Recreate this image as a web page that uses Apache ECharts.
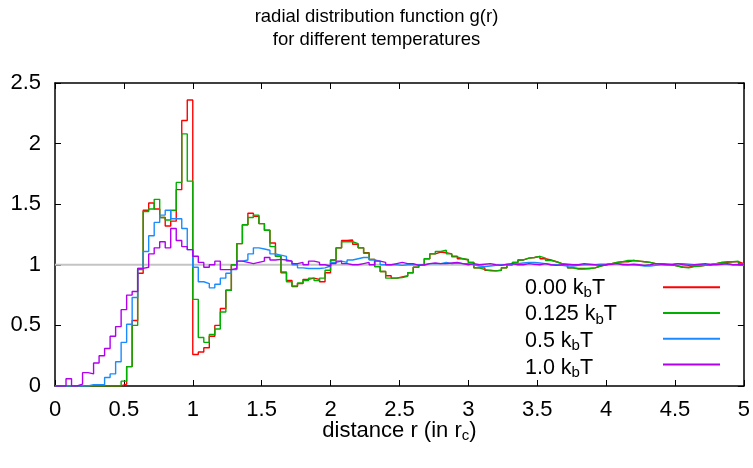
<!DOCTYPE html>
<html><head><meta charset="utf-8">
<script src="https://cdn.jsdelivr.net/npm/echarts@6/dist/echarts.min.js"></script>
<style>html,body{margin:0;padding:0;background:#fff}#c{width:753px;height:468px}</style>
</head><body><div id="c"></div>
<script>
// bin width of the histogram (r units), bins start at r = 0
const binWidth = 0.04;
const temps = ['0.00', '0.125', '0.5', '1.0'];
const xTicks = [0, 0.5, 1, 1.5, 2, 2.5, 3, 3.5, 4, 4.5, 5];
const yTicks = [0, 0.5, 1, 1.5, 2, 2.5];
const refLine = [1, 1];

const g000 = [
 0,0,0,0,0,0,0,0,0,0,
 0,0,0.015,0.16,0.54,0.93,1.45,1.51,1.46,1.39,
 1.32,1.36,1.62,2.19,2.36,0.26,0.28,0.315,0.41,0.50,
 0.64,0.79,1.00,1.175,1.33,1.425,1.40,1.34,1.285,1.18,
 1.07,0.935,0.87,0.82,0.845,0.88,0.89,0.88,0.86,0.935,
 1.04,1.14,1.20,1.205,1.17,1.14,1.10,1.045,0.985,0.945,
 0.91,0.89,0.90,0.91,0.935,0.98,1.00,1.05,1.09,1.105,
 1.10,1.09,1.07,1.05,1.04,1.02,0.975,0.975,0.955,0.95,
 0.955,0.975,1.00,1.02,1.04,1.055,1.06,1.07,1.05,1.04,
 1.025,1.01,1.0,0.975,0.97,0.97,0.97,0.975,0.99,1.0,
 1.01,1.02,1.025,1.025,1.035,1.03,1.025,1.02,1.01,1.01,
 1.005,1.0,0.99,0.98,0.98,0.99,0.99,0.995,1.0,1.01,
 1.02,1.02,1.025,1.025,1.01
];
const g0125 = [
 0,0,0,0,0,0,0,0,0,0,
 0,0,0.04,0.16,0.50,0.96,1.44,1.46,1.54,1.39,
 1.37,1.45,1.68,2.08,1.69,0.715,0.40,0.36,0.425,0.47,
 0.61,0.79,1.00,1.175,1.33,1.39,1.41,1.34,1.285,1.15,
 1.07,0.94,0.86,0.825,0.85,0.87,0.89,0.87,0.89,0.955,
 1.04,1.14,1.19,1.19,1.175,1.14,1.095,1.045,0.985,0.945,
 0.89,0.89,0.895,0.905,0.935,0.98,1.0,1.05,1.09,1.11,
 1.12,1.09,1.065,1.05,1.045,1.02,0.975,0.96,0.95,0.95,
 0.955,0.975,1.0,1.02,1.04,1.055,1.06,1.07,1.055,1.035,
 1.025,1.01,1.0,0.975,0.965,0.965,0.97,0.975,0.99,1.0,
 1.01,1.02,1.025,1.035,1.035,1.03,1.025,1.02,1.01,1.01,
 1.005,1.0,0.99,0.98,0.975,0.985,0.99,0.995,1.0,1.01,
 1.02,1.025,1.025,1.03,1.01
];
const g05 = [
 0,0,0,0,0,0,0.01,0.01,0.01,0.07,
 0.10,0.20,0.36,0.51,0.73,0.97,1.11,1.24,1.35,1.41,
 1.45,1.38,1.38,1.30,1.125,0.98,0.86,0.845,0.81,0.84,
 0.89,0.93,0.96,1.03,1.04,1.09,1.14,1.13,1.12,1.09,
 1.08,1.07,1.03,1.00,0.975,0.97,0.97,0.97,0.975,0.99,
 1.02,1.03,1.02,1.04,1.05,1.06,1.06,1.04,1.03,1.00,
 1.00,1.0,0.995,1.0,1.0,1.0,0.995,1.01,1.01,1.01,
 1.02,1.01,1.015,1.01,1.01,1.0,0.99,0.985,0.99,0.995,
 1.0,1.0,1.005,1.01,1.015,1.02,1.02,1.015,1.01,1.0,
 1.0,0.995,0.99,0.99,0.995,1.0,1.0,1.0,1.005,1.005,
 1.01,1.01,1.005,1.0,1.0,0.995,0.99,0.99,0.995,1.0,
 1.0,1.005,1.01,1.01,1.005,1.0,1.0,1.0,1.005,1.01,
 1.01,1.005,1.0,1.0,1.0
];
const g10 = [
 0,0,0.06,0,0.015,0.11,0.10,0.19,0.25,0.31,
 0.41,0.49,0.63,0.75,0.78,0.97,0.98,1.09,1.14,1.19,
 1.14,1.30,1.20,1.15,1.125,1.07,1.02,0.98,1.00,1.03,
 0.96,0.96,0.97,1.03,1.02,1.01,1.02,1.03,1.06,1.04,
 1.045,1.04,1.03,1.01,1.02,1.00,1.03,1.02,1.00,0.99,
 1.01,1.03,1.01,1.0,1.0,1.01,1.02,1.0,1.03,1.02,
 1.0,1.01,1.02,1.01,1.01,0.995,1.0,1.01,1.015,1.01,
 1.01,1.015,1.02,1.01,1.0,1.01,1.0,1.005,1.01,1.0,
 0.995,1.005,1.01,1.0,1.0,1.01,1.005,1.0,1.01,1.0,
 0.995,1.0,1.005,1.0,1.0,1.01,1.005,1.0,0.995,1.0,
 1.005,1.01,1.0,1.0,1.005,1.0,0.995,1.0,1.01,1.005,
 1.0,1.0,1.01,1.0,0.995,1.0,1.005,1.01,1.0,1.0,
 1.005,1.01,1.0,1.0,1.0
];

const seriesValues = [g000, g0125, g05, g10];
const colors = ['#ff0000', '#00b000', '#1a8cff', '#b000f0'];
const FONT = 'Liberation Sans, Arial, sans-serif';
const TICK_FS = 22, LEG_FS = 21.5, TITLE_FS = 18.5, NAME_FS = 22;

function toSteps(vals) {
  const pts = vals.map((v, i) => [i * binWidth, v]);
  pts.push([vals.length * binWidth, vals[vals.length - 1]]);
  return pts;
}
const names = temps.map(t => t + ' kbT');

const chart = echarts.init(document.getElementById('c'), null, {renderer: 'canvas'});
const axisLineStyle = {color: '#000', width: 1.5};
const baseX = {
  type: 'value', min: xTicks[0], max: xTicks[xTicks.length - 1], interval: 0.5,
  axisLine: {show: true, onZero: false, lineStyle: axisLineStyle},
  axisTick: {show: true, inside: true, length: 6, lineStyle: {color: '#000', width: 1}},
  splitLine: {show: false}
};
const baseY = {
  type: 'value', min: yTicks[0], max: yTicks[yTicks.length - 1], interval: 0.5,
  axisLine: {show: true, onZero: false, lineStyle: axisLineStyle},
  axisTick: {show: true, inside: true, length: 6, lineStyle: {color: '#000', width: 1}},
  splitLine: {show: false}
};
const series = [{
  type: 'line', name: 'ref', data: [[xTicks[0], refLine[0]], [xTicks[xTicks.length-1], refLine[1]]],
  showSymbol: false, silent: true, lineStyle: {color: '#c4c4c4', width: 2}, z: 1
}];
seriesValues.forEach((vals, k) => {
  series.push({
    type: 'line', name: names[k], data: toSteps(vals), step: 'end',
    showSymbol: false, symbol: 'none', color: colors[k],
    lineStyle: {color: colors[k], width: 1.4}, z: 2 + k
  });
});
const rowStep = 26.55;
chart.setOption({
  animation: false,
  backgroundColor: '#fff',
  title: {
    text: 'radial distribution function g(r)\nfor different temperatures',
    left: 'center', top: 5.5, padding: 0,
    textStyle: {fontFamily: FONT, fontSize: TITLE_FS, fontWeight: 'normal', color: '#000', lineHeight: 23}
  },
  grid: {left: 55, right: 8, top: 83, bottom: 82},
  legend: [{
    // labels (left aligned)
    data: names, orient: 'vertical', left: 520, top: 287.7 - 12.4, itemGap: rowStep - 24.8,
    padding: 0, itemWidth: 0, itemHeight: 2, icon: 'rect', selectedMode: false,
    formatter: function (n) { const t = n.replace(' kbT', ''); return '{n|' + t + ' k}{s|b}{n|T}'; },
    textStyle: {
      fontFamily: FONT, color: '#000',
      rich: {
        n: {fontFamily: FONT, fontSize: LEG_FS, color: '#000', lineHeight: 24},
        s: {fontFamily: FONT, fontSize: 15, color: '#000', padding: [10, 0, 0, 0], lineHeight: 14}
      }
    }
  }, {
    // line samples
    data: names, orient: 'vertical', left: 663, top: 287.7 - 1.4, itemGap: rowStep - 2.8,
    padding: 0, itemWidth: 57, itemHeight: 2, icon: 'rect', selectedMode: false,
    formatter: function () { return ''; },
    textStyle: {fontSize: 1, lineHeight: 1}
  }],
  xAxis: [
    Object.assign({}, baseX, {
      position: 'bottom',
      axisLabel: {fontFamily: FONT, fontSize: TICK_FS, color: '#000', margin: 13},
      name: '{a|distance r (in r}{s|c}{a|)}', nameLocation: 'middle', nameGap: 34,
      nameMoveOverlap: false,
      nameTextStyle: {
        rich: {
          a: {fontFamily: FONT, fontSize: NAME_FS, color: '#000', lineHeight: 22},
          s: {fontFamily: FONT, fontSize: 15, color: '#000', padding: [10, 0, 0, 0], lineHeight: 13}
        }
      }
    }),
    Object.assign({}, baseX, {position: 'top', axisLabel: {show: false}})
  ],
  yAxis: [
    Object.assign({}, baseY, {position: 'left', axisLabel: {fontFamily: FONT, fontSize: TICK_FS, color: '#000', margin: 14}}),
    Object.assign({}, baseY, {position: 'right', axisLabel: {show: false}})
  ],
  series: series
});
</script></body></html>
